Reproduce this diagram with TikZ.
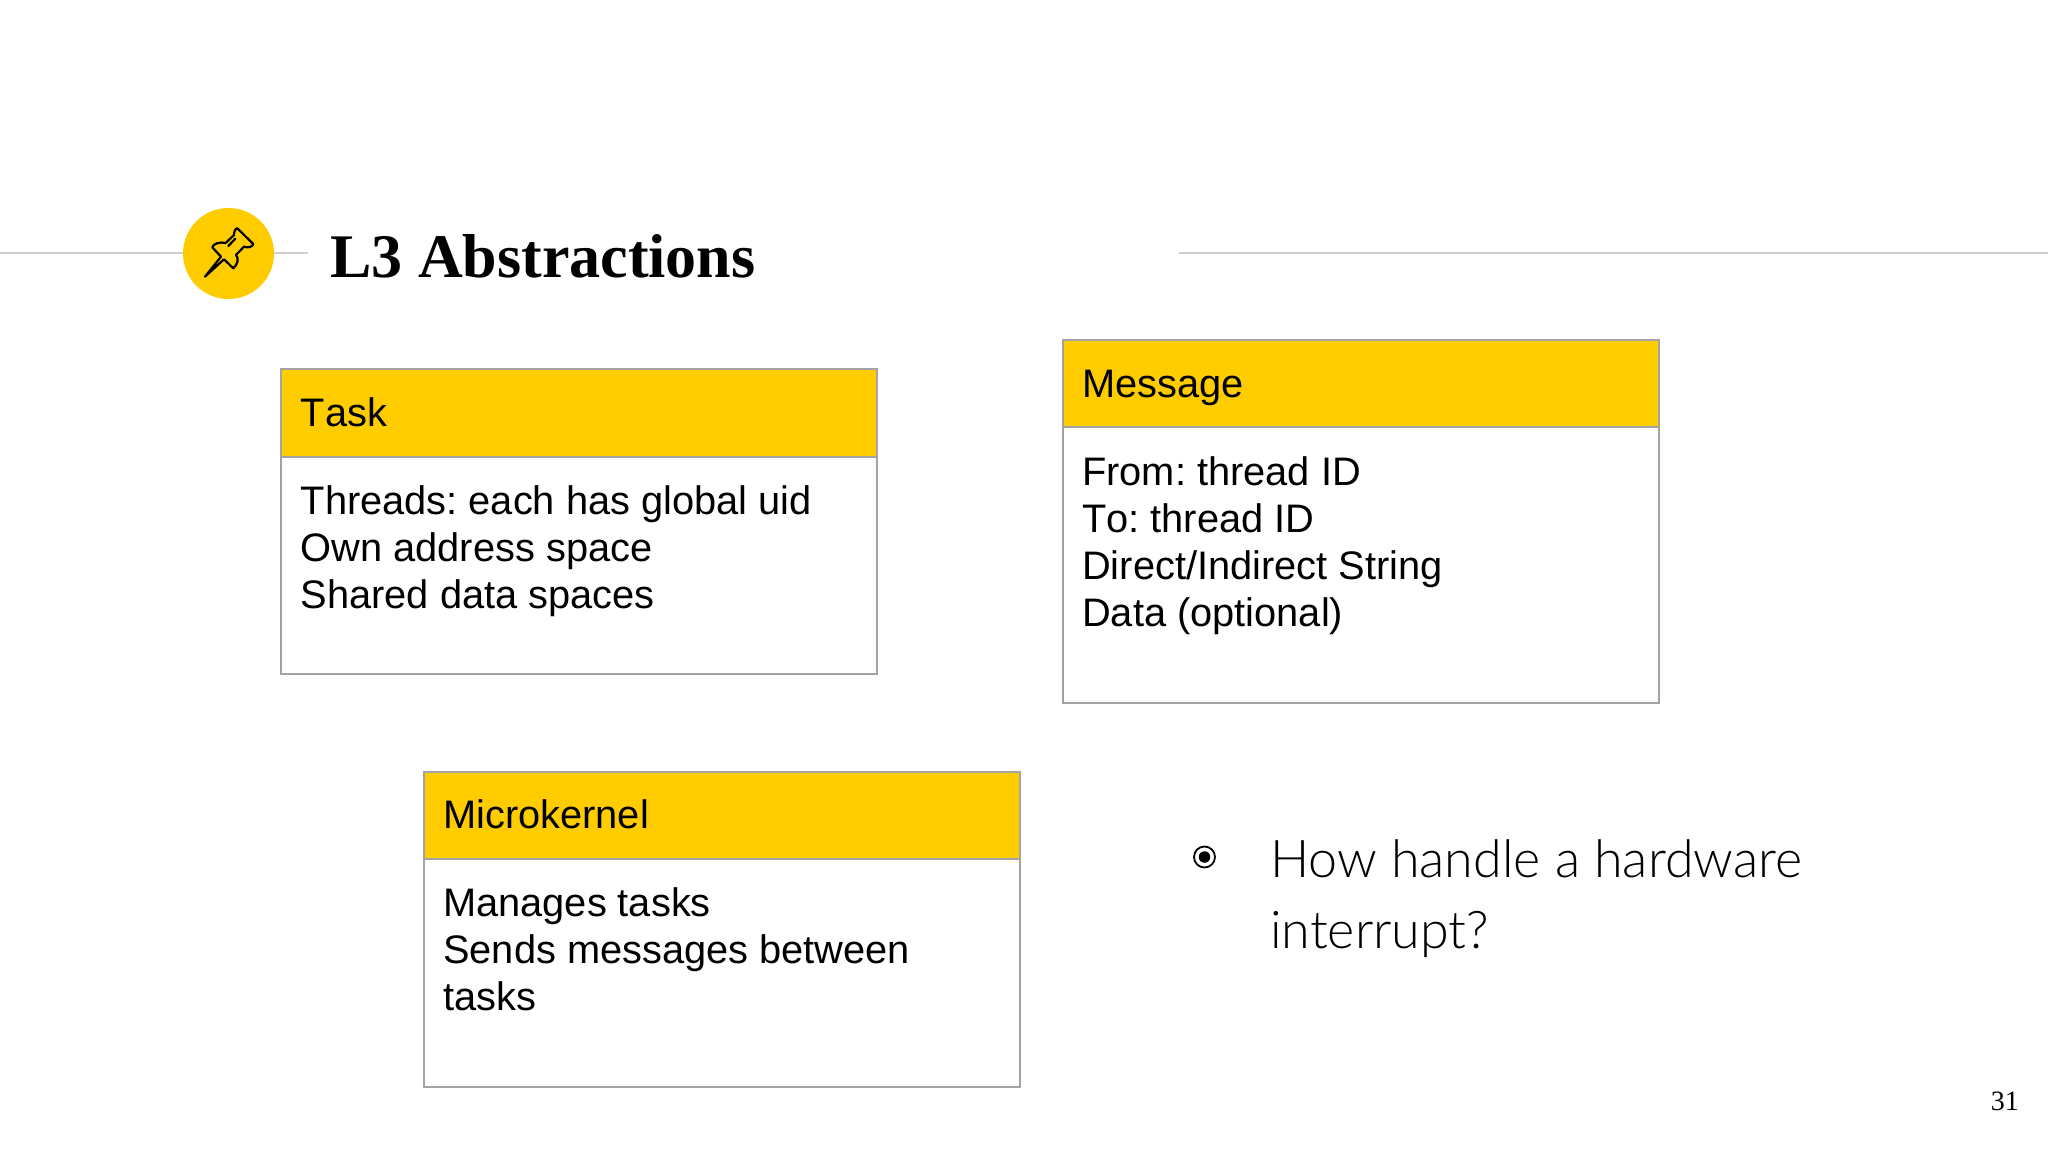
\documentclass[tikz,border=0pt]{standalone}
\usepackage{fontspec}
\setmainfont[Kerning=Off]{Liberation Sans}
\newfontfamily\titlefont{Liberation Serif}
\newfontfamily\bodyfont{Lato Light}
\definecolor{gold}{HTML}{FFCC00}
\definecolor{edge}{HTML}{A3A3A3}
\definecolor{rulecol}{HTML}{CFCFCF}
\tikzset{
  x=1pt,y=-1pt,
  headbox/.style={draw=edge,line width=2.4pt,fill=gold,rectangle,inner sep=0,minimum width=596pt,anchor=north west},
  bodybox/.style={draw=edge,line width=2.4pt,fill=white,rectangle,inner sep=0,minimum width=596pt,anchor=north west},
  headtext/.style={font=\fontsize{39.8}{47}\selectfont,text=black,inner sep=0,anchor=base west},
  bodytext/.style={font=\fontsize{39.8}{47}\selectfont\frenchspacing,text=black,inner sep=0,anchor=north west,align=left},
  rulings/.style={draw=rulecol,line width=2pt},
}
\begin{document}
\begin{tikzpicture}
\useasboundingbox (0,0) rectangle (2048,1152);
\fill[white] (0,0) rectangle (2048,1152);
% rules
\coordinate (la) at (0,253); \coordinate (lb) at (308,253);
\coordinate (ra) at (1179,253); \coordinate (rb) at (2048,253);
\draw[rulings] (la) -- (lb);
\draw[rulings] (ra) -- (rb);
% badge
\node[circle,fill=gold,minimum size=91pt,inner sep=0] (badge) at (228.5,253.5) {};
\begin{scope}[shift={(160,190)},x=0.3333pt,y=-0.3333pt,line width=2.2pt,line join=round,line cap=round]
\draw (135,260) -- (183,200) -- (157,172) .. controls (160,160) and (180,155) .. (197,159) -- (222,135)
  .. controls (222,125) and (226,115) .. (232,115) -- (280,162) .. controls (278,170) and (265,175) .. (252,170)
  -- (228,195) .. controls (238,205) and (232,225) .. (220,235) -- (192,208) -- cycle;
\draw (205,168) -- (226,146);
\end{scope}
% title
\node[font=\titlefont\bfseries\fontsize{62}{70}\selectfont,inner sep=0,anchor=base west] (title) at (330,277) {L3 Abstractions};
% Task
\node[bodybox,minimum height=305pt] (taskbody) at (280,368) {};
\node[headbox,minimum height=87.5pt] (taskhead) at (280,368) {};
\node[headtext] (tasklabel) at (300.5,426.5) {Task};
\node[bodytext] (tasktext) at (300.5,485) {Threads: each has global uid\\Own address space\\Shared data spaces};
% Message
\node[bodybox,minimum height=363pt] (msgbody) at (1062,338.5) {};
\node[headbox,minimum height=87.5pt] (msghead) at (1062,338.5) {};
\node[headtext] (msglabel) at (1082,397) {Message};
\node[bodytext] (msgtext) at (1082,456) {From: thread ID\\To: thread ID\\Direct/Indirect String\\Data (optional)};
% Microkernel
\node[bodybox,minimum height=315pt] (mkbody) at (422.5,770.5) {};
\node[headbox,minimum height=87.5pt] (mkhead) at (422.5,770.5) {};
\node[headtext] (mklabel) at (443,828.5) {Microkernel};
\node[bodytext] (mktext) at (443,887) {Manages tasks\\Sends messages between\\tasks};
% question
\node[circle,draw=black,line width=1.8pt,minimum size=21pt,inner sep=0] (bulletring) at (1204.5,857) {};
\node[circle,fill=black,minimum size=11.5pt,inner sep=0] (bulletdot) at (1204.5,857) {};
\node[font=\bodyfont\fontsize{52}{71}\selectfont,inner sep=0,anchor=north west,align=left] (question) at (1270,839.5) {How handle a hardware\\interrupt?};
% page number
\node[font=\titlefont\fontsize{28}{32}\selectfont,inner sep=0,anchor=base east] (page) at (2019,1110) {31};
\end{tikzpicture}
\end{document}
